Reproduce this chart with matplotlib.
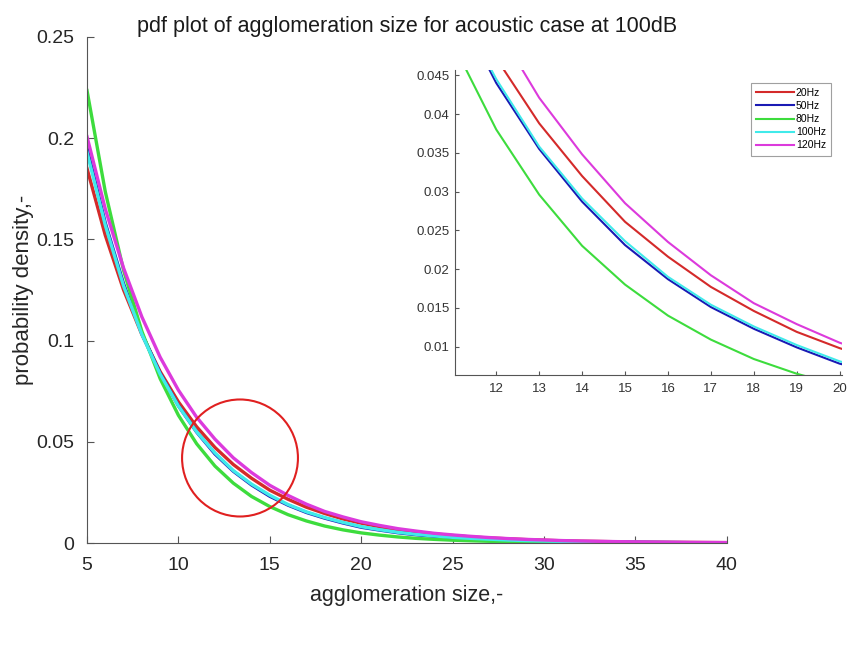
import matplotlib
matplotlib.use("Agg")
import matplotlib.pyplot as plt
from matplotlib.patches import Ellipse
from matplotlib.ticker import FuncFormatter

plt.rcParams['font.family'] = ['Liberation Sans', 'DejaVu Sans']

sizes = list(range(5, 41))

pdf_20hz = [0.185, 0.152, 0.125, 0.103, 0.0847, 0.0697, 0.0574, 0.0472, 0.0388, 0.0320,
            0.0261, 0.0216, 0.0177, 0.0146, 0.0119, 0.0098, 0.0081, 0.0066, 0.0055, 0.0045,
            0.0037, 0.0030, 0.0025, 0.0021, 0.0017, 0.0014, 0.0011, 0.0009, 0.00077, 0.00063,
            0.00052, 0.00043, 0.00035, 0.00029, 0.00024, 0.00020]
pdf_50hz = [0.195, 0.158, 0.128, 0.1035, 0.0838, 0.0678, 0.0548, 0.0440, 0.0355, 0.0287,
            0.0231, 0.0187, 0.0151, 0.0123, 0.0099, 0.0078, 0.0064, 0.0051, 0.0041, 0.0033,
            0.0027, 0.0022, 0.0018, 0.0014, 0.0011, 0.0009, 0.00074, 0.00060, 0.00048, 0.00039,
            0.00032, 0.00026, 0.00021, 0.00017, 0.00014, 0.00011]
pdf_80hz = [0.2235, 0.1735, 0.1347, 0.1046, 0.0812, 0.0631, 0.0490, 0.0380, 0.0296, 0.0230,
            0.0180, 0.0140, 0.0109, 0.0084, 0.0065, 0.0050, 0.0039, 0.0030, 0.0023, 0.0018,
            0.0014, 0.0011, 0.00085, 0.00066, 0.00051, 0.00040, 0.00031, 0.00024, 0.00019, 0.00014,
            0.00011, 0.00009, 0.00007, 0.00005, 0.00004, 0.00003]
pdf_100hz = [0.193, 0.157, 0.127, 0.103, 0.0835, 0.0677, 0.0549, 0.0445, 0.0358, 0.0291,
             0.0236, 0.0190, 0.0154, 0.0126, 0.0102, 0.0081, 0.0066, 0.0053, 0.0043, 0.0035,
             0.0028, 0.0023, 0.0019, 0.0015, 0.0012, 0.0010, 0.00080, 0.00065, 0.00052, 0.00042,
             0.00034, 0.00028, 0.00023, 0.00018, 0.00015, 0.00012]
pdf_120hz = [0.2007, 0.165, 0.1358, 0.1117, 0.0918, 0.0755, 0.0621, 0.0513, 0.0421, 0.0348,
             0.0285, 0.0235, 0.0192, 0.0156, 0.0129, 0.0105, 0.0087, 0.0071, 0.0059, 0.0048,
             0.0040, 0.0033, 0.0027, 0.0022, 0.0018, 0.0015, 0.0012, 0.0010, 0.00083, 0.00068,
             0.00056, 0.00046, 0.00038, 0.00031, 0.00026, 0.00021]

labels = ['20Hz', '50Hz', '80Hz', '100Hz', '120Hz']
series = [pdf_20hz, pdf_50hz, pdf_80hz, pdf_100hz, pdf_120hz]
colors = ['#d42a2a', '#1a1ab4', '#3ddc3d', '#40eaea', '#dc3adc']

main_yticks = [0, 0.05, 0.1, 0.15, 0.2, 0.25]
main_xticks = [5, 10, 15, 20, 25, 30, 35, 40]
inset_yticks = [0.01, 0.015, 0.02, 0.025, 0.03, 0.035, 0.04, 0.045]
inset_xticks = [12, 13, 14, 15, 16, 17, 18, 19, 20]

fig = plt.figure(figsize=(8.49, 6.59), dpi=100)
axc = '#555555'
txt = '#262626'

ax = fig.add_axes([0.1025, 0.176, 0.7535, 0.768])
for s, c, l in zip(series, colors, labels):
    ax.plot(sizes, s, color=c, lw=2.4, label=l)
ax.set_xlim(5, 40)
ax.set_ylim(0, 0.25)
ax.set_xticks(main_xticks)
ax.set_yticks(main_yticks)
ax.yaxis.set_major_formatter(FuncFormatter(lambda v, p: '%g' % v))
for sp in ['top', 'right']:
    ax.spines[sp].set_visible(False)
for sp in ['left', 'bottom']:
    ax.spines[sp].set_color(axc)
ax.tick_params(direction='in', length=5, color=axc, labelsize=14, labelcolor=txt)
ax.tick_params(axis='x', pad=10)
ax.tick_params(axis='y', pad=9)
ax.set_xlabel('agglomeration size,-', fontsize=15.5, color=txt, labelpad=8)
ax.set_ylabel('probability density,-', fontsize=16, color=txt, labelpad=1.5)
ax.set_title('pdf plot of agglomeration size for acoustic case at 100dB', fontsize=15.5,
             color='#1a1a1a', pad=2)

circ = Ellipse((13.37, 0.042), 6.34, 0.0578, fill=False, edgecolor='#e02020', lw=1.5,
               clip_on=False, zorder=5)
ax.add_patch(circ)

ins = fig.add_axes([0.536, 0.431, 0.456, 0.463])
for s, c, l in zip(series, colors, labels):
    ins.plot(sizes, s, color=c, lw=1.5, label=l)
ins.set_xlim(11.04, 20.06)
ins.set_ylim(0.00634, 0.0457)
ins.set_xticks(inset_xticks)
ins.set_yticks(inset_yticks)
ins.yaxis.set_major_formatter(FuncFormatter(lambda v, p: '%g' % v))
for sp in ['top', 'right']:
    ins.spines[sp].set_visible(False)
for sp in ['left', 'bottom']:
    ins.spines[sp].set_color(axc)
ins.tick_params(direction='in', length=3, color=axc, labelsize=9.5, labelcolor='#333333')
ins.tick_params(axis='x', pad=6)
ins.tick_params(axis='y', pad=4)
leg = ins.legend(loc='upper right', fontsize=7.5, frameon=True, fancybox=False,
                 edgecolor='#888888', handlelength=3.6, handletextpad=0.2,
                 borderpad=0.5, labelspacing=0.3, bbox_to_anchor=(0.985, 0.975))
leg.get_frame().set_linewidth(0.8)

fig.savefig('out.png', dpi=100)
